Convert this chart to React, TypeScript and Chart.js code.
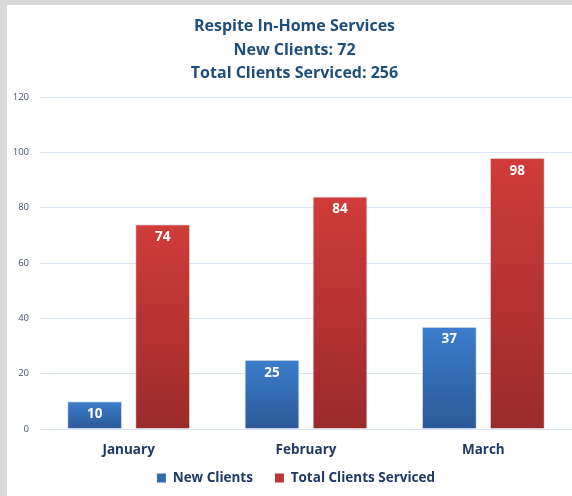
import React, { useEffect, useRef } from "react";
import { Chart, registerables } from "chart.js";

Chart.register(...registerables);

const titleLines = ["Respite In-Home Services", "New Clients: 72", "Total Clients Serviced: 256"];
const months = ["January", "February", "March"];
const newClients = [10, 25, 37];
const totalClients = [74, 84, 98];
const seriesNames = ["New Clients", "Total Clients Serviced"];
const yMin = 0;
const yMax = 120;
const yStep = 20;

const FONT = "'Open Sans', Lato, sans-serif";

function barGradient(top: string, bottom: string, values: number[]) {
  return (ctx: any) => {
    const chart = ctx.chart;
    const area = chart.chartArea;
    const y = chart.scales && chart.scales.y;
    if (!area || !y || ctx.dataIndex === undefined) return top;
    const v = values[ctx.dataIndex];
    const y0 = y.getPixelForValue(v);
    const y1 = y.getPixelForValue(0);
    if (!isFinite(y0) || !isFinite(y1) || y0 === y1) return top;
    const g = chart.ctx.createLinearGradient(0, y0, 0, y1);
    g.addColorStop(0, top);
    g.addColorStop(1, bottom);
    return g;
  };
}

const valueLabels = {
  id: "valueLabels",
  afterDatasetsDraw(chart: any) {
    const ctx = chart.ctx;
    ctx.save();
    ctx.fillStyle = "#ffffff";
    ctx.font = `bold 13.5px ${FONT}`;
    ctx.textAlign = "center";
    ctx.textBaseline = "middle";
    chart.data.datasets.forEach((ds: any, di: number) => {
      const meta = chart.getDatasetMeta(di);
      meta.data.forEach((bar: any, i: number) => {
        ctx.fillText(String(ds.data[i]), bar.x, bar.y + 13);
      });
    });
    ctx.restore();
  },
};

const shiftBoxes = {
  id: "shiftBoxes",
  afterLayout(chart: any) {
    const t = chart.titleBlock;
    if (t) {
      t.left = 0;
      t.right = 575;
      t.width = 575;
    }
    const l = chart.legend;
    if (l) {
      const h = l.height;
      l.left = 0;
      l.right = 578;
      l.width = 578;
      l.top = 444.25;
      l.bottom = 444.25 + h;
    }
  },
};

export default function App() {
  const ref = useRef<HTMLCanvasElement | null>(null);
  useEffect(() => {
    let chart: Chart | null = null;
    let cancelled = false;
    const make = () => {
      if (cancelled || !ref.current) return;
      chart = new Chart(ref.current, {
        type: "bar",
        data: {
          labels: months,
          datasets: [
            {
              label: seriesNames[0],
              data: newClients,
              backgroundColor: barGradient("#3c7dcd", "#2c5a98", newClients),
              borderColor: "rgba(200,205,215,0.6)",
              borderWidth: 1,
              categoryPercentage: 0.767,
              barPercentage: 0.809,
            },
            {
              label: seriesNames[1],
              data: totalClients,
              backgroundColor: barGradient("#d03c39", "#9a2b2b", totalClients),
              borderColor: "rgba(200,205,215,0.6)",
              borderWidth: 1,
              categoryPercentage: 0.767,
              barPercentage: 0.809,
            },
          ],
        },
        options: {
          responsive: false,
          animation: false,
          devicePixelRatio: 1,
          layout: { padding: { left: 0, right: 0, top: 0, bottom: 0 } },
          plugins: {
            title: {
              display: true,
              text: titleLines,
              color: "#1f4e79",
              font: { family: FONT, size: 16, weight: "bold", lineHeight: 23.5 / 16 },
              padding: { top: 9.75, bottom: 11.75 },
            },
            legend: {
              position: "bottom",
              maxHeight: 37,
              labels: {
                color: "#1f3864",
                font: { family: FONT, size: 13.5, weight: "bold" },
                boxWidth: 9,
                boxHeight: 9,
                padding: 22,
                generateLabels: (c: any) =>
                  c.data.datasets.map((ds: any, i: number) => ({
                    text: ds.label,
                    fillStyle: i === 0 ? "#3468b3" : "#bf3533",
                    strokeStyle: i === 0 ? "#3468b3" : "#bf3533",
                    lineWidth: 0,
                    datasetIndex: i,
                    hidden: false,
                    fontColor: "#1f3864",
                  })),
              },
            },
            tooltip: { enabled: false },
          },
          scales: {
            x: {
              grid: { display: false, drawTicks: false },
              border: { display: false },
              ticks: {
                color: "#1f3864",
                font: { family: FONT, size: 13.5, weight: "bold" },
                padding: 13,
              },
              afterFit: (s: any) => {
                s.height = 30;
              },
            },
            y: {
              min: yMin,
              max: yMax,
              grid: { color: "#d9e5f3", lineWidth: 1, drawTicks: false },
              border: { display: false },
              ticks: {
                stepSize: yStep,
                color: "#44546a",
                font: { family: FONT, size: 9.5 },
                padding: 11,
              },
              afterFit: (s: any) => {
                s.width = 33;
              },
            },
          },
        },
        plugins: [valueLabels, shiftBoxes],
      });
    };
    const fonts: any = (document as any).fonts;
    if (fonts && fonts.load) {
      Promise.all([
        fonts.load(`bold 16px 'Open Sans'`),
        fonts.load(`9px 'Open Sans'`),
      ]).then(make, make);
    } else {
      make();
    }
    return () => {
      cancelled = true;
      if (chart) chart.destroy();
    };
  }, []);

  return (
    <div
      style={{
        position: "fixed",
        left: 0,
        top: 0,
        width: 572,
        height: 496,
        background: "#d9d9d9",
        overflow: "hidden",
      }}
    >
      <div
        style={{
          position: "absolute",
          left: 7,
          top: 5,
          width: 565,
          height: 491,
          background: "#ffffff",
        }}
      >
        <canvas ref={ref} width={565} height={491} style={{ display: "block", width: 565, height: 491 }} />
      </div>
    </div>
  );
}
